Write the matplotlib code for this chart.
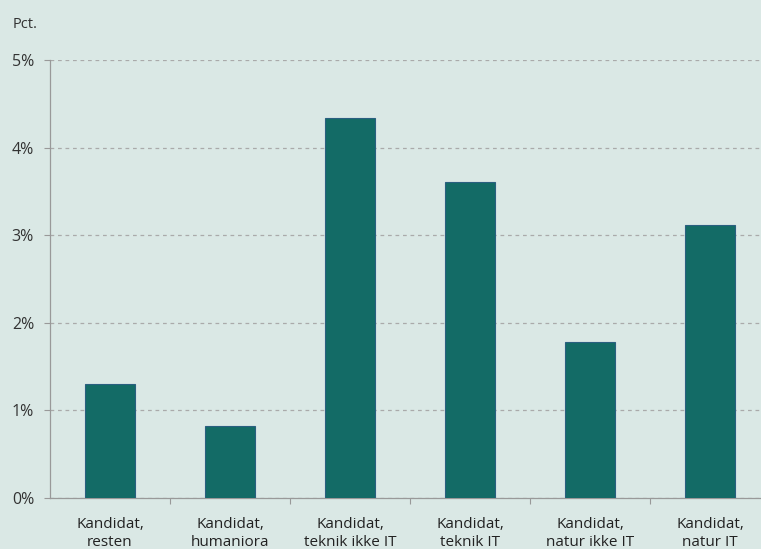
import matplotlib
matplotlib.use("Agg")
import matplotlib.pyplot as plt
from matplotlib.ticker import FixedLocator

categories = ["Kandidat,\nresten", "Kandidat,\nhumaniora", "Kandidat,\nteknik ikke IT",
              "Kandidat,\nteknik IT", "Kandidat,\nnatur ikke IT", "Kandidat,\nnatur IT"]
values = [1.30, 0.82, 4.34, 3.61, 1.78, 3.12]
yticks = [0, 1, 2, 3, 4, 5]
ytick_labels = ["0%", "1%", "2%", "3%", "4%", "5%"]

bg = "#dae8e5"
plt.rcParams['font.family'] = ['Open Sans', 'DejaVu Sans']

fig = plt.figure(figsize=(7.61, 5.49), dpi=100, facecolor=bg)
ax = fig.add_axes([50/761, 51/549, 720/761, 438/549], facecolor=bg)

x = list(range(len(categories)))
ax.bar(x, values, width=0.41, color="#136b66", edgecolor="#2a5f80", linewidth=0.8, zorder=3)

ax.set_xlim(-0.5, len(categories) - 0.5)
ax.set_ylim(0, 5)
ax.set_yticks(yticks)
ax.set_yticklabels(ytick_labels, fontsize=11.5, color="#333333")
ax.set_xticks(x)
ax.set_xticklabels(categories, fontsize=11, color="#222222", linespacing=1.2)
ax.xaxis.set_minor_locator(FixedLocator([i + 0.5 for i in range(len(categories) - 1)]))
ax.tick_params(axis="x", which="major", length=0, pad=14)
ax.tick_params(axis="x", which="minor", length=4, color="#999999", width=0.8, direction="out")
ax.tick_params(axis="y", length=4.5, color="#999999", width=0.8, pad=7)

ax.grid(axis="y", color="#aaaaaa", linestyle=(0, (3, 3)), linewidth=0.9, zorder=0)
for s in ["top", "right"]:
    ax.spines[s].set_visible(False)
for s in ["left", "bottom"]:
    ax.spines[s].set_color("#999999")
    ax.spines[s].set_linewidth(0.9)

fig.text(13/761, 1 - 25/549, "Pct.", fontsize=10.5, color="#333333", va="center", ha="left")

fig.savefig("out.png", dpi=100, facecolor=bg)
